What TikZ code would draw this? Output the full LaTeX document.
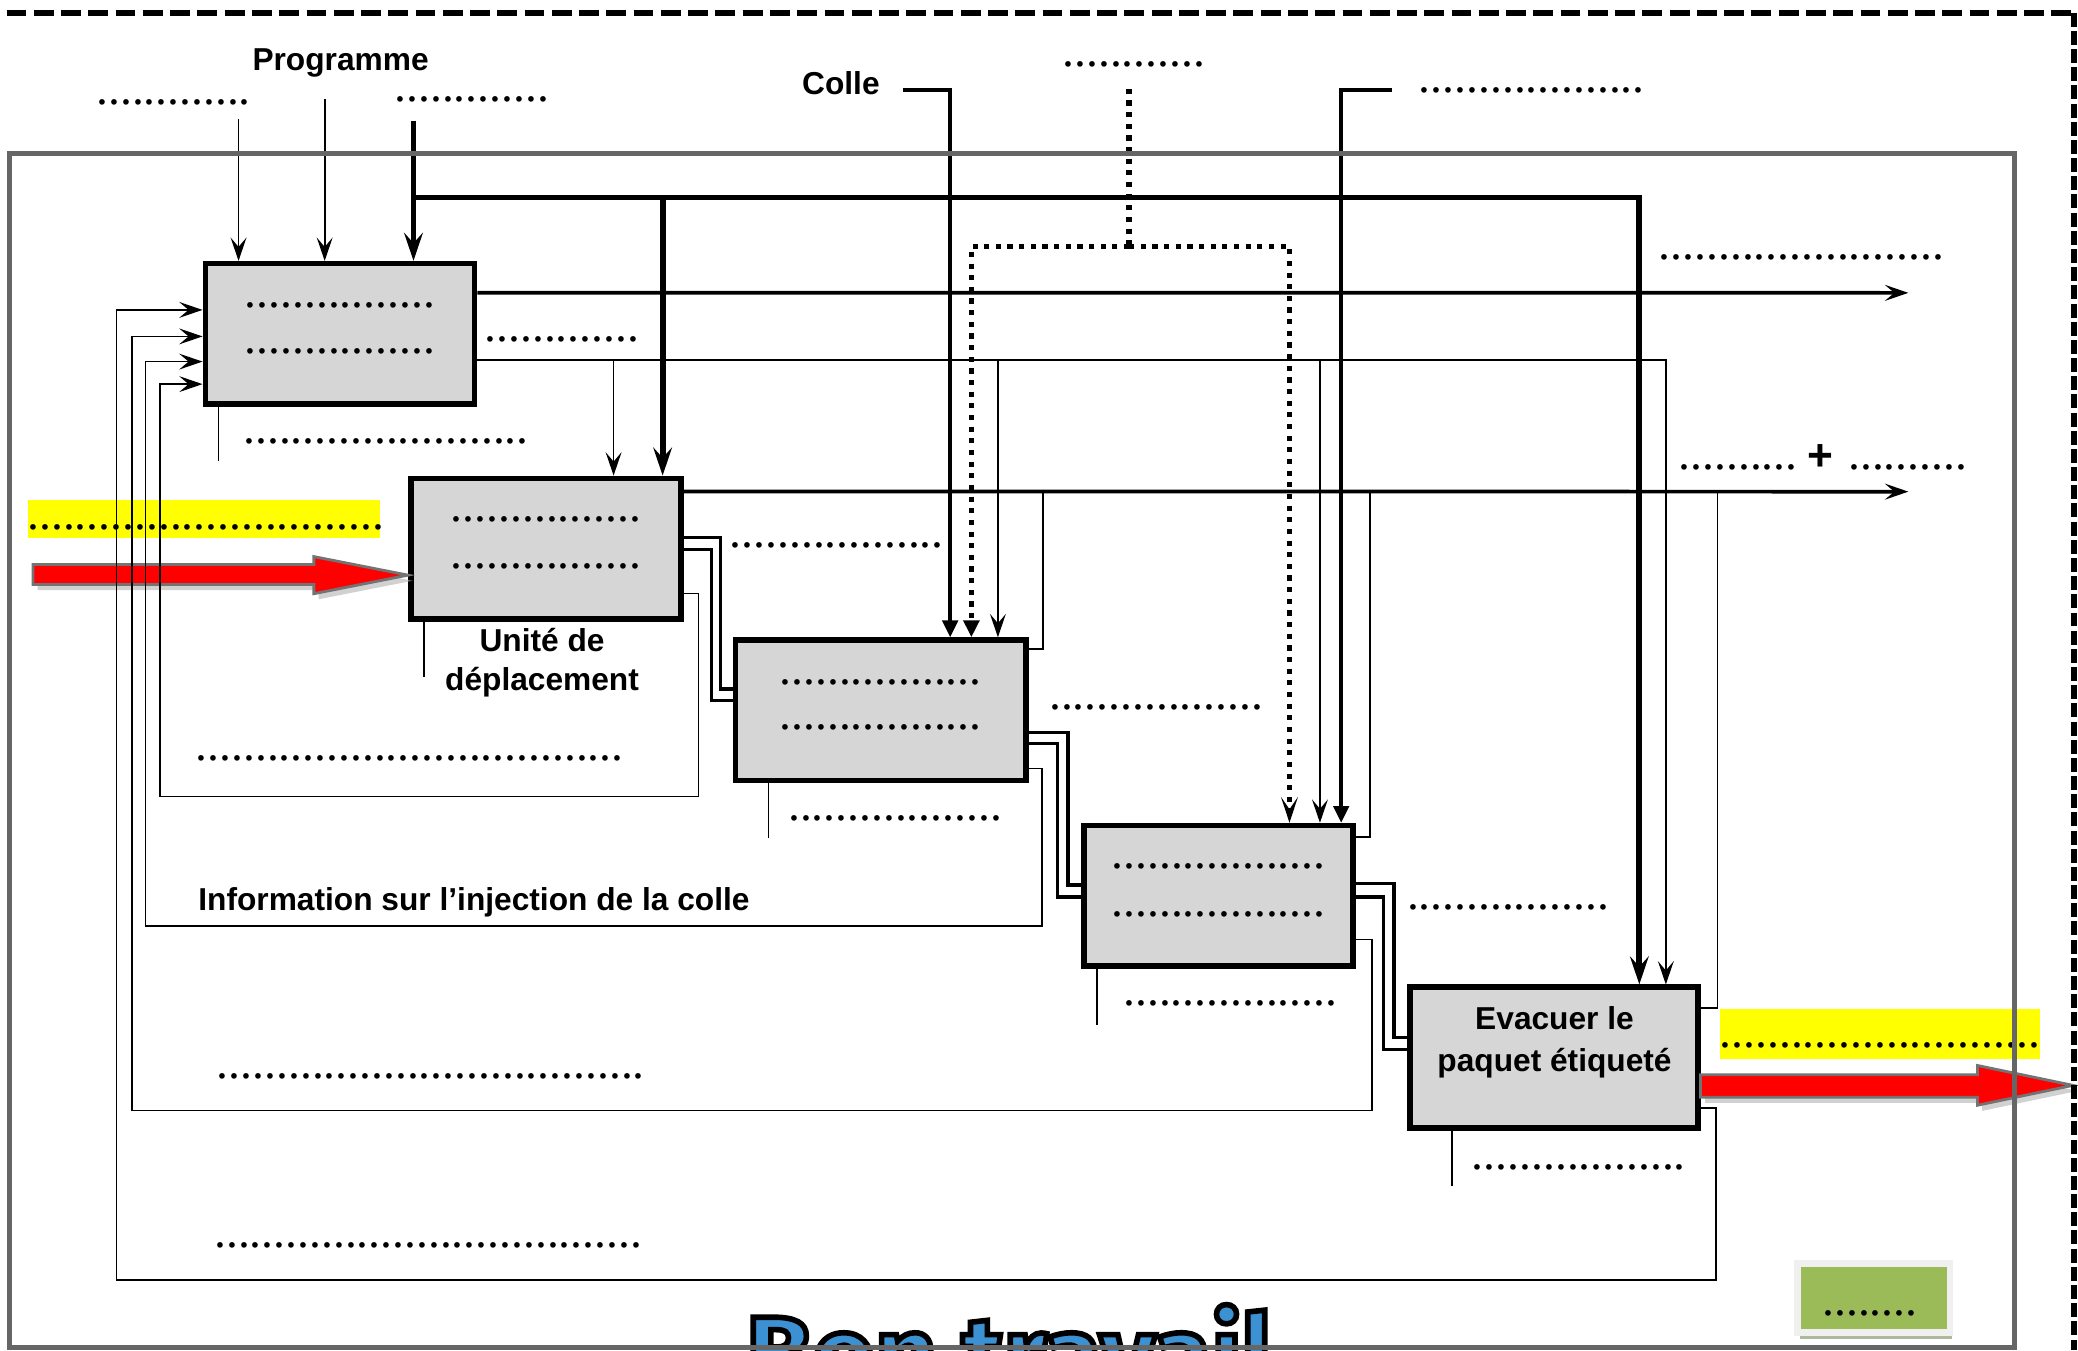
\documentclass[tikz,border=0pt]{standalone}
\usepackage{fontspec}
\setmainfont{Liberation Sans}
\newfontfamily\bonfont{Fira Sans}
\newfontfamily\blankfont{Liberation Serif}
\usetikzlibrary{arrows.meta,calc,shadows}
\definecolor{boxgray}{RGB}{214,214,214}
\definecolor{framegray}{RGB}{102,102,102}
\definecolor{flowred}{RGB}{255,0,0}
\definecolor{hiyellow}{RGB}{255,255,0}
\definecolor{notegreen}{RGB}{155,187,89}
\definecolor{bonblue}{RGB}{60,145,210}
\newcommand{\lbl}{\fontsize{6.8}{8.2}\selectfont\bfseries}
\newcommand{\dotfnt}{\blankfont\fontsize{10.2}{11}\selectfont}

\begin{document}
\begin{tikzpicture}[x=0.01cm, y=-0.01cm]
\tikzset{actbox/.style={draw, line width=1.2pt, fill=boxgray, minimum height=1.06cm, inner sep=0pt}}
\tikzset{dotlbl/.style={font=\dotfnt, inner sep=0pt}}
\tikzset{txt/.style={font=\lbl, inner sep=0pt}}
\tikzset{thinline/.style={draw, line width=0.38pt}}
\tikzset{medline/.style={draw, line width=0.8pt}}
\tikzset{thickline/.style={draw, line width=1.25pt}}
\tikzset{stairline/.style={draw, line width=0.7pt}}
\tikzset{dotline/.style={draw, line width=1.15pt, dash pattern=on 1.1pt off 1.4pt}}
\tikzset{vtip/.style={-{Stealth[length=5pt,width=3.4pt,inset=2pt]}}}
\tikzset{bigtip/.style={-{Stealth[length=6pt,width=4pt,inset=2.2pt]}}}
\tikzset{dtip/.style={-{Stealth[length=5.5pt,width=3.6pt,inset=2.6pt]}}}
\tikzset{ftip/.style={-{Triangle[length=3.6pt,width=3.3pt]}}}
\tikzset{redflow/.style={fill=flowred, draw=black!55, line width=0.6pt,
    drop shadow={shadow xshift=1pt, shadow yshift=-1.2pt, fill=black!30, opacity=0.6}}}
\tikzset{notebox/.style={fill=notegreen, draw=black!6, line width=1.4pt, minimum width=1.15cm,
    minimum height=0.52cm, inner sep=0pt,
    drop shadow={shadow xshift=0.4pt, shadow yshift=-1.4pt, fill=notegreen!45!gray!70, opacity=1}}}
\tikzset{pageborder/.style={draw, line width=1.2pt}}

\useasboundingbox (0,0) rectangle (1568,1019);

%% Highlights
\fill[hiyellow] (21,377) rectangle (287,406);
\fill[hiyellow] (1298,761) rectangle (1539,799);

%% Activity boxes
\node[actbox, minimum width=2.03cm] at (256.5,252) (b1) {};
\node[actbox, minimum width=2.04cm] at (412,414) (b2) {};
\node[actbox, minimum width=2.19cm] at (664.5,536) (b3) {};
\node[actbox, minimum width=2.03cm] at (919.5,676) (b4) {};
\node[actbox, minimum width=2.17cm] at (1172.5,798) (b5) {};

%% Product flow
\draw[redflow] ($(b2.west)+(0,20)$) -- ++(-71,-14) -- ++(0,6) -- ++(-212,0)
    -- ++(0,15) -- ++(212,0) -- ++(0,7) -- cycle;
\draw[redflow] ($(b5.east)+(0,13)$) -- ++(209,0) -- ++(0,-7) -- ++(72,15)
    -- ++(-72,15) -- ++(0,-6) -- ++(-209,0) -- cycle;

%% Inputs from the top
\coordinate (pg1) at (180,90);
\coordinate (pg2) at (245,75);
\coordinate (pg3) at (312,91);
\draw[thinline, vtip] (pg1) -- (pg1 |- b1.north);
\draw[thinline, vtip] (pg2) -- (pg2 |- b1.north);
\draw[thickline, bigtip] (pg3) -- (pg3 |- b1.north);

\coordinate (k1) at (312,149);
\coordinate (k2) at (500,149);
\coordinate (k5) at (1237,149);
\draw[thickline, bigtip] (k1) -| (k5 |- b5.north);
\draw[thickline, bigtip] (k2) -- (k2 |- b2.north);

\coordinate (cs) at (681,68);
\coordinate (ck) at (717,68);
\draw[medline, ftip] (cs) -- (ck) -- (ck |- b3.north);

\coordinate (rs) at (1050,68);
\coordinate (rk) at (1012,68);
\draw[medline, ftip] (rs) -- (rk) -- (rk |- b4.north);

\coordinate (ds) at (852,67);
\coordinate (dk) at (852,186);
\coordinate (dl) at (733,186);
\coordinate (dr) at (973,186);
\draw[dotline] (ds) -- (dk);
\draw[dotline, ftip] (dk) -- (dl) -- (dl |- b3.north);
\draw[dotline, dtip] (dk) -- (dr) -- (dr |- b4.north);

%% Outputs of box 1
\coordinate (t2) at (463,272);
\coordinate (t3) at (753,272);
\coordinate (t4) at (996,272);
\coordinate (t5) at (1257,272);
\coordinate (o1) at (1440,221);
\draw[medline, vtip] ($(b1.north east)+(0,24)$) -- (o1);
\draw[thinline, vtip] ($(b1.north east)+(0,75)$) -| (t5 |- b5.north);
\draw[thinline, vtip] (t2) -- (t2 |- b2.north);
\draw[thinline, vtip] (t3) -- (t3 |- b3.north);
\draw[thinline, vtip] (t4) -- (t4 |- b4.north);

%% Outputs of box 2 and returns
\coordinate (o2) at (1440,371);
\coordinate (j3) at (787,371);
\coordinate (j4) at (1034,371);
\coordinate (j5) at (1296,371);
\draw[medline, vtip] ($(b2.north east)+(0,12)$) -- (o2);
\draw[thinline] ($(b3.north east)+(0,9)$) -| (j3);
\draw[thinline] ($(b4.north east)+(0,11)$) -| (j4);
\draw[thinline] ($(b5.north east)+(0,18)$) -| (j5);

%% Box to box
\draw[stairline] ($(b2.north east)+(0,47)$) -| ($(b3.north west)+(-9,39)$) -- ($(b3.north west)+(0,39)$);
\draw[stairline] ($(b2.north east)+(0,56)$) -| ($(b3.north west)+(-16,48)$) -- ($(b3.north west)+(0,48)$);
\draw[stairline] ($(b3.north east)+(0,72)$) -| ($(b4.north west)+(-10,47)$) -- ($(b4.north west)+(0,47)$);
\draw[stairline] ($(b3.north east)+(0,80)$) -| ($(b4.north west)+(-18,56)$) -- ($(b4.north west)+(0,56)$);
\draw[stairline] ($(b4.north east)+(0,46)$) -| ($(b5.north west)+(-10,40)$) -- ($(b5.north west)+(0,40)$);
\draw[stairline] ($(b4.north east)+(0,56)$) -| ($(b5.north west)+(-18,49)$) -- ($(b5.north west)+(0,49)$);

%% Feedback to box 1
\coordinate (c2) at (527,601);
\coordinate (c3) at (786,699);
\coordinate (c4) at (1035,838);
\coordinate (c5) at (1295,966);
\draw[thinline, vtip] ($(b2.north east)+(0,89)$) -| (c2) -| ($(b1.north west)+(-32,93)$) -- ($(b1.north west)+(0,93)$);
\draw[thinline, vtip] ($(b3.north east)+(0,99)$) -| (c3) -| ($(b1.north west)+(-43,76)$) -- ($(b1.north west)+(0,76)$);
\draw[thinline, vtip] ($(b4.north east)+(0,88)$) -| (c4) -| ($(b1.north west)+(-53,57)$) -- ($(b1.north west)+(0,57)$);
\draw[thinline, vtip] ($(b5.north east)+(0,93)$) -| (c5) -| ($(b1.north west)+(-65,37)$) -- ($(b1.north west)+(0,37)$);

%% Mechanisms
\draw[thinline] ($(b1.south west)+(12,0)$) -- ++(0,41);
\draw[thinline] ($(b2.south west)+(12,0)$) -- ++(0,42);
\draw[thinline] ($(b3.south west)+(27,0)$) -- ++(0,41);
\draw[thinline] ($(b4.south west)+(12,0)$) -- ++(0,42);
\draw[thinline] ($(b5.south west)+(34,0)$) -- ++(0,42);

%% Texts
\node[txt, anchor=base] (prog) at (257,53) {Programme};
\node[txt, anchor=base] (colle) at (634.5,71) {Colle};
\node[txt, align=center] (unit) at (409,500) {Unité de\\déplacement};
\node[txt, anchor=base west] (info) at (149,687) {Information sur l’injection de la colle};
\node[txt, align=center, font=\fontsize{6.8}{9}\selectfont\bfseries] (evac) at (1173,786.8) {Evacuer le\\paquet étiqueté};
\node[txt, font=\fontsize{9.5}{10}\selectfont\bfseries] (plus) at (1374,345) {+};

%% Blanks
\node[dotlbl, anchor=base west] (d1) at (72,78.5) {.............};
\node[dotlbl, anchor=base west] (d2) at (297,76.5) {.............};
\node[dotlbl, anchor=base west] (d3) at (801,50.5) {............};
\node[dotlbl, anchor=base west] (d4) at (1070,69.5) {...................};
\node[dotlbl, anchor=base] (r1a) at ($(b1.north)+(0,35.5)$) {................};
\node[dotlbl, anchor=base] (r1b) at ($(b1.north)+(0,70)$) {................};
\node[dotlbl, anchor=base west] (d5) at (365,257.5) {.............};
\node[dotlbl, anchor=base west] (d6) at (183,334.5) {........................};
\node[dotlbl, anchor=base west] (d7) at (1251,196) {........................};
\node[dotlbl, anchor=base west] (d8) at (1266,354.5) {..........};
\node[dotlbl, anchor=base west] (d9) at (1394,354.5) {..........};
\node[dotlbl, anchor=base west] (d10) at (20,399.5) {..............................};
\node[dotlbl, anchor=base] (r2a) at ($(b2.north)+(0,34.5)$) {................};
\node[dotlbl, anchor=base] (r2b) at ($(b2.north)+(0,70.5)$) {................};
\node[dotlbl, anchor=base west] (d11) at (550,413.5) {..................};
\node[dotlbl, anchor=base west] (d12) at (147,573.5) {....................................};
\node[dotlbl, anchor=base] (r3a) at ($(b3.north)+(0,35.5)$) {.................};
\node[dotlbl, anchor=base] (r3b) at ($(b3.north)+(0,69.5)$) {.................};
\node[dotlbl, anchor=base west] (d13) at (791,535.5) {..................};
\node[dotlbl, anchor=base west] (d14) at (594,619.5) {..................};
\node[dotlbl, anchor=base] (r4a) at ($(b4.north)+(0,34.5)$) {..................};
\node[dotlbl, anchor=base] (r4b) at ($(b4.north)+(0,70.5)$) {..................};
\node[dotlbl, anchor=base west] (d15) at (1061,686.5) {.................};
\node[dotlbl, anchor=base west] (d16) at (847,758.5) {..................};
\node[dotlbl, anchor=base west] (d17) at (163,813.5) {....................................};
\node[dotlbl, anchor=base west] (d18) at (161,941.5) {....................................};
\node[dotlbl, anchor=base west] (d19) at (1297,790.5) {...........................};
\node[dotlbl, anchor=base west] (d20) at (1110,882.5) {..................};

%% Note
\node[notebox] (gb) at (1414,979.5) {};
\node[dotlbl, anchor=base] (gbd) at ($(gb.center)+(-3,13.5)$) {........};

\node[inner sep=0pt, anchor=base, text=bonblue, font=\bonfont\bfseries\fontsize{23}{26}\selectfont] (bt) at (762,1050)
    {\special{pdf:literal direct 0 0 0 RG 1.2 w 2 Tr}Bon travail\special{pdf:literal direct 0 Tr}};

%% Frames
\draw[framegray, line width=1pt] (7,116) rectangle (1520,1017);
\draw[pageborder, dash pattern=on 4.25pt off 1.6pt] (5,9.6) -- (1565,9.6);
\draw[pageborder, dash pattern=on 3pt off 0.9pt] (1565,9.6) -- (1565,1019);

\end{tikzpicture}
\end{document}
